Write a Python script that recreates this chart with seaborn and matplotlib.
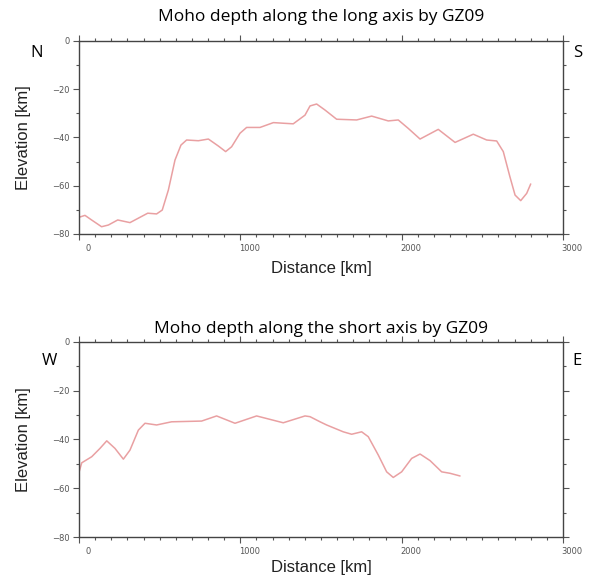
import numpy as np
import pandas as pd
import matplotlib
matplotlib.use("Agg")
import matplotlib.pyplot as plt
import matplotlib.transforms as mtransforms
import seaborn as sns
from matplotlib.ticker import MultipleLocator

sns.set_style("ticks")

# Long axis profile (N -> S)
long_dist = [0, 37, 78, 140, 182, 240, 316, 378, 426, 481, 516, 554, 595, 632, 667,
             740, 802, 864, 909, 946, 998, 1039, 1122, 1205, 1277, 1328, 1401, 1432,
             1473, 1525, 1597, 1721, 1814, 1917, 1979, 2041, 2114, 2227, 2331, 2444,
             2527, 2589, 2630, 2671, 2703, 2738, 2775, 2800]
long_elev = [-73.1, -72.3, -74.2, -77.0, -76.3, -74.2, -75.3, -73.1, -71.4, -71.7,
             -70.1, -61.8, -49.4, -43.2, -41.1, -41.4, -40.7, -43.6, -45.9, -43.9,
             -38.3, -35.9, -35.9, -33.9, -34.2, -34.4, -30.8, -27.0, -26.2, -28.7,
             -32.5, -32.8, -31.2, -33.2, -32.8, -36.3, -40.7, -36.7, -42.1, -38.7,
             -41.1, -41.5, -45.9, -56.3, -63.9, -66.2, -63.2, -59.3]

# Short axis profile (W -> E)
short_dist = [0, 17, 79, 130, 172, 223, 275, 316, 368, 409, 481, 574, 760, 853, 967,
              1101, 1266, 1401, 1432, 1494, 1535, 1638, 1690, 1752, 1793, 1855, 1907,
              1948, 2000, 2062, 2114, 2176, 2248, 2300, 2362]
short_elev = [-53.5, -49.6, -47.1, -43.7, -40.6, -43.7, -48.1, -44.4, -36.2, -33.4,
              -34.1, -32.8, -32.5, -30.4, -33.4, -30.4, -33.2, -30.4, -30.7, -32.8,
              -34.1, -36.9, -37.9, -36.9, -38.9, -46.4, -53.3, -55.6, -53.3, -47.8,
              -46.0, -48.7, -53.3, -53.9, -55.0]

titles = ["Moho depth along the long axis by GZ09", "Moho depth along the short axis by GZ09"]
left_labels = ["N", "W"]
right_labels = ["S", "E"]
x_ticks = [0, 1000, 2000, 3000]
y_ticks = [-80, -60, -40, -20, 0]

line_color = "#e9a0a2"

fig = plt.figure(figsize=(5.9, 5.76), dpi=100)
ax1 = fig.add_axes([0.1339, 0.5938, 0.8203, 0.3355])
ax2 = fig.add_axes([0.1339, 0.0677, 0.8203, 0.3390])

profiles = [(long_dist, long_elev), (short_dist, short_elev)]
title_pads = [14, 6]
xlabel_pads = [6, 3]
corner_pos = [(-0.074, 0.939), (-0.045, 0.901)]
offset = mtransforms.ScaledTranslation(9 / 100, 0, fig.dpi_scale_trans)

for i, (ax, (d, e)) in enumerate(zip([ax1, ax2], profiles)):
    df = pd.DataFrame({"Distance": d, "Elevation": e})
    sns.lineplot(data=df, x="Distance", y="Elevation", ax=ax, sort=False,
                 color=line_color, linewidth=1.1, estimator=None)
    for ln in ax.get_lines():
        ln.set_solid_joinstyle("round")
        ln.set_solid_capstyle("round")
    ax.set_xlim(0, 3000)
    ax.set_ylim(-80, 0)
    ax.set_xticks(x_ticks)
    ax.set_yticks(y_ticks)
    ax.xaxis.set_minor_locator(MultipleLocator(100))
    ax.yaxis.set_minor_locator(MultipleLocator(10))
    ax.tick_params(which="both", direction="out", top=True, right=True,
                   labeltop=False, labelright=False, color="#555555", width=0.8)
    ax.tick_params(which="major", length=4, labelsize=6, labelcolor="#555555", pad=3)
    ax.tick_params(which="minor", length=2)
    for lab in ax.get_xticklabels():
        lab.set_transform(lab.get_transform() + offset)
    for s in ax.spines.values():
        s.set_color("#444444")
        s.set_linewidth(1.0)
    ax.set_xlabel("Distance [km]", fontsize=12, family="Liberation Sans",
                  labelpad=xlabel_pads[i], color="#222222")
    ax.set_ylabel("Elevation [km]", fontsize=12, family="Liberation Sans",
                  labelpad=15, color="#222222")
    ax.set_title(titles[i], fontsize=12.5, family="Open Sans", pad=title_pads[i],
                 color="black")
    cx, cy = corner_pos[i]
    ax.text(cx, cy, left_labels[i], transform=ax.transAxes, fontsize=12,
            family="Open Sans", ha="right", va="center", color="black")
    ax.text(1.02, cy, right_labels[i], transform=ax.transAxes, fontsize=12,
            family="Open Sans", ha="left", va="center", color="black")

fig.savefig("out.png", dpi=100)
